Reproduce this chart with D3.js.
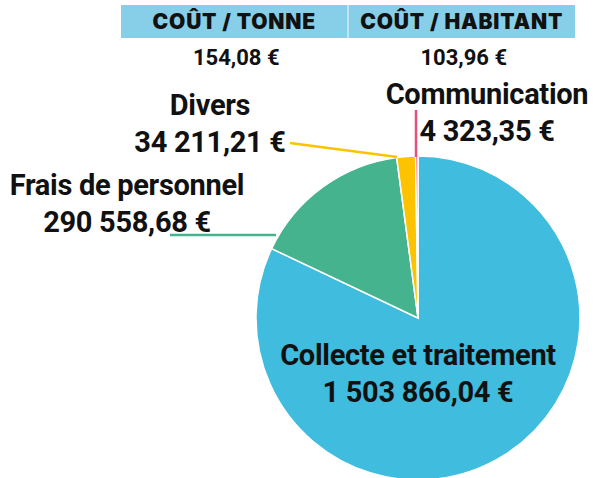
<!DOCTYPE html>
<html>
<head>
<meta charset="utf-8">
<script src="https://cdn.jsdelivr.net/npm/d3@7"></script>
<style>
  body { margin: 0; background: #fff; }
  text { font-family: Roboto, "Open Sans", sans-serif; font-weight: 700; fill: #111; }
</style>
</head>
<body>
<div id="chart"></div>
<script>
// data
const categories = ["Collecte et traitement", "Frais de personnel", "Divers", "Communication"];
const values = [1503866.04, 290558.68, 34211.21, 4323.35];
const valueLabels = ["1 503 866,04 €", "290 558,68 €", "34 211,21 €", "4 323,35 €"];
const colors = ["#3fbcde", "#45b48e", "#fdc300", "#e4507a"];
const headers = ["COÛT / TONNE", "COÛT / HABITANT"];
const headerValues = ["154,08 €", "103,96 €"];

const width = 597, height = 478;
const svg = d3.select("#chart").append("svg")
  .attr("width", width)
  .attr("height", height);

// header table
const hx = d3.scaleBand().domain(headers).range([121, 575]).paddingInner(0.004);
svg.selectAll(".hdr").data(headers).join("rect")
  .attr("x", d => hx(d))
  .attr("y", 5)
  .attr("width", hx.bandwidth())
  .attr("height", 33)
  .attr("fill", "#87cfe8");
svg.selectAll(".hdrtxt").data(headers).join("text")
  .attr("x", d => hx(d) + hx.bandwidth() / 2)
  .attr("y", 29)
  .attr("text-anchor", "middle")
  .style("font-size", "21px")
  .style("font-weight", 900)
  .style("letter-spacing", "0.8px")
  .style("font-family", "Inter, Roboto, sans-serif")
  .text(d => d);
svg.selectAll(".hdrval").data(headerValues).join("text")
  .attr("x", (d, i) => hx(headers[i]) + hx.bandwidth() / 2 + 2)
  .attr("y", 65)
  .attr("text-anchor", "middle")
  .style("font-size", "22px")
  .text(d => d);

// pie
const cx = 418, cy = 318, r = 162;
const pie = d3.pie().sort(null).value(d => d);
const arcs = pie(values);
const arc = d3.arc().innerRadius(0).outerRadius(r);
const g = svg.append("g").attr("transform", `translate(${cx},${cy})`);
g.selectAll("path").data(arcs).join("path")
  .attr("d", arc)
  .attr("fill", (d, i) => colors[i])
  .attr("stroke", "#fff")
  .attr("stroke-width", 1.5);

// leader lines
const leaders = [
  null,
  [[170, 235], [276, 235]],
  [[290, 143], [397, 157]],
  [[416, 110], [416, 157]]
];
leaders.forEach((l, i) => {
  if (!l) return;
  svg.append("path")
    .attr("d", d3.line()(l))
    .attr("stroke", colors[i])
    .attr("stroke-width", 2.5)
    .attr("fill", "none");
});

// labels
const labelPos = [
  { x: 418, y: 365, anchor: "middle" },
  { x: 127, y: 195, anchor: "middle" },
  { x: 210, y: 115, anchor: "middle" },
  { x: 487, y: 104, anchor: "middle" }
];
labelPos.forEach((p, i) => {
  const t = svg.append("text")
    .attr("x", p.x)
    .attr("y", p.y)
    .attr("text-anchor", p.anchor)
    .style("font-size", "29px")
    .style("letter-spacing", "-0.3px");
  t.append("tspan").attr("x", p.x).text(categories[i]);
  t.append("tspan").attr("x", p.x).attr("dy", 37).text(valueLabels[i]);
});
</script>
</body>
</html>
